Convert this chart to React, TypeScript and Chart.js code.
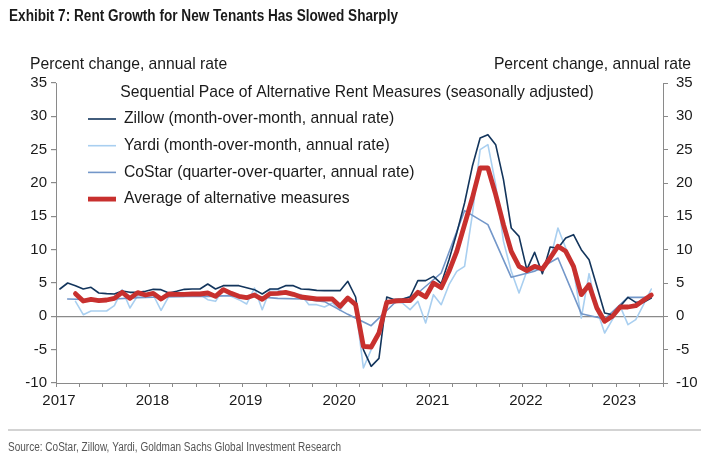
import React, { useEffect, useRef } from 'react';
import { Chart, registerables } from 'chart.js';

Chart.register(...registerables);

// ---------- text ----------
const TITLE = 'Exhibit 7: Rent Growth for New Tenants Has Slowed Sharply';
const AXIS_TITLE = 'Percent change, annual rate';
const SUBTITLE = 'Sequential Pace of Alternative Rent Measures (seasonally adjusted)';
const SOURCE = 'Source: CoStar, Zillow, Yardi, Goldman Sachs Global Investment Research';
const SERIES_LABELS = [
  'Zillow (month-over-month, annual rate)',
  'Yardi (month-over-month, annual rate)',
  'CoStar (quarter-over-quarter, annual rate)',
  'Average of alternative measures',
];

// ---------- axes ----------
const FIRST_YEAR = 2017;
const YEAR_LABELS = ['2017', '2018', '2019', '2020', '2021', '2022', '2023'];
const X_MONTHS_SPAN = 78; // Jan 2017 .. Jul 2023
const Y_MIN = -10;
const Y_MAX = 35;
const Y_STEP = 5;

// ---------- data (percent, annual rate) ----------
// Zillow monthly, Jan 2017 – May 2023
const ZILLOW_START = 0; // month index from Jan 2017
const zillow = [
  4.1, 5.0, 4.6, 4.1, 4.35, 3.5, 3.4, 3.35, 3.8, 3.6, 3.6, 3.75,
  4.05, 4.0, 3.5, 3.75, 4.05, 4.1, 4.1, 4.85, 4.1, 4.6, 4.6, 4.6,
  4.3, 4.0, 3.35, 4.1, 4.1, 4.6, 4.6, 4.1, 4.05, 3.9, 3.85, 3.85,
  3.85, 5.25, 2.9, -5.0, -7.5, -6.3, 2.9, 2.5, 2.6, 2.9, 5.35, 5.35,
  6.0, 4.9, 8.5, 12.5, 17.0, 22.5, 26.75, 27.25, 25.75, 20.5, 13.25, 12.0,
  7.0, 9.6, 6.4, 10.4, 10.2, 11.75, 12.25, 10.0, 8.5, 4.5, 0.5, 0.25,
  1.5, 2.85, 2.1, 2.1, 2.75,
];
// Yardi monthly, Mar 2017 – May 2023
const YARDI_START = 2;
const yardi = [
  2.25, 0.25, 0.8, 0.8, 0.8, 1.6, 4.0, 1.25, 3.1, 3.1,
  3.2, 0.9, 3.0, 3.0, 3.0, 3.25, 3.25, 2.5, 2.25, 4.1, 3.0, 2.5,
  1.85, 4.25, 1.0, 4.0, 4.0, 3.5, 3.25, 3.25, 1.75, 1.75, 1.4, 2.0,
  0.9, 2.75, 1.5, -7.75, -5.0, -2.0, 2.25, 2.25, 2.0, 1.0, 2.25, -1.0,
  3.25, 1.75, 4.75, 6.75, 7.5, 15.25, 25.0, 25.75, 19.75, 11.25, 6.75, 3.5,
  6.75, 7.0, 6.9, 8.5, 13.25, 10.25, 7.0, -0.25, 6.4, 1.0, -2.5, -0.5,
  1.5, -1.25, -0.5, 1.75, 4.1,
];
// CoStar quarterly, Q1 2017 – Q2 2023 (plotted at the middle month of each quarter)
const COSTAR_START = 1;
const costar = [
  2.6, 2.5, 2.6, 2.8,
  2.9, 3.0, 3.0, 3.1,
  3.0, 2.7, 2.6, 2.2,
  0.3, -1.4, 2.0, 3.5,
  6.5, 15.85, 13.75, 5.85,
  6.75, 8.75, 0.4, -0.4,
  2.85, 2.85,
];
// Average of alternative measures, monthly, Mar 2017 – May 2023
const AVERAGE_START = 2;
const average = [
  3.4, 2.3, 2.55, 2.35, 2.45, 2.7, 3.6, 2.7, 3.55, 3.2,
  3.45, 2.6, 3.35, 3.3, 3.3, 3.35, 3.35, 3.5, 3.0, 4.0, 3.45, 3.0,
  2.8, 3.2, 2.55, 3.4, 3.45, 3.6, 3.3, 2.9, 2.75, 2.6, 2.6, 2.6,
  1.5, 2.75, 1.75, -4.5, -4.6, -2.5, 2.1, 2.3, 2.35, 2.35, 3.6, 2.9,
  5.0, 4.3, 6.75, 9.75, 13.75, 17.75, 22.25, 22.25, 18.25, 13.75, 9.75, 7.5,
  6.85, 7.5, 7.1, 8.75, 10.5, 9.75, 7.5, 3.25, 4.75, 1.25, -0.75, 0.0,
  1.4, 1.4, 1.6, 2.4, 3.2,
];

// ---------- styles ----------
const COLORS = ['#13355c', '#a9cff0', '#7397c9', '#c8302e'];
const WIDTHS = [1.6, 1.6, 1.6, 4.8];
const AXIS_GRAY = '#8a8a8a';
const TEXT = '#1a1a1a';
const FONT = '"Liberation Sans", Arial, sans-serif';

const monthly = (vals: number[], start: number) =>
  vals.map((v, i) => ({ x: start + i + 0.5, y: v }));
const quarterly = (vals: number[], start: number) =>
  vals.map((v, i) => ({ x: start + i * 3 + 0.5, y: v }));

// draw text squeezed horizontally to a given width (condensed look)
function fillFit(ctx: CanvasRenderingContext2D, text: string, x: number, y: number, width: number) {
  const w = ctx.measureText(text).width;
  ctx.save();
  ctx.translate(x, y);
  ctx.scale(width / w, 1);
  ctx.textAlign = 'left';
  ctx.fillText(text, 0, 0);
  ctx.restore();
}

const decor = {
  id: 'decor',
  afterDraw(chart: any) {
    const { ctx, chartArea } = chart;
    const W = chart.width;
    ctx.save();
    ctx.textBaseline = 'middle';
    // title
    ctx.fillStyle = TEXT;
    ctx.font = `bold 16px ${FONT}`;
    fillFit(ctx, TITLE, 9, 17, 389);
    // axis titles
    ctx.font = `15.7px ${FONT}`;
    ctx.textAlign = 'left';
    ctx.fillText(AXIS_TITLE, 30, 65);
    ctx.textAlign = 'right';
    ctx.fillText(AXIS_TITLE, 691, 65);
    // subtitle
    ctx.textAlign = 'center';
    ctx.fillText(SUBTITLE, 357, chartArea.top + 10);
    // legend
    ctx.textAlign = 'left';
    const lx = chartArea.left + 32;
    for (let i = 0; i < SERIES_LABELS.length; i++) {
      const y = chartArea.top + 36 + i * 26.7;
      ctx.strokeStyle = COLORS[i];
      ctx.lineWidth = WIDTHS[i];
      ctx.beginPath();
      ctx.moveTo(lx, y);
      ctx.lineTo(lx + 28, y);
      ctx.stroke();
      ctx.fillStyle = TEXT;
      ctx.fillText(SERIES_LABELS[i], lx + 36, y);
    }
    // footer
    ctx.strokeStyle = '#c4c4c4';
    ctx.lineWidth = 1.5;
    ctx.beginPath();
    ctx.moveTo(8, 430);
    ctx.lineTo(W - 8, 430);
    ctx.stroke();
    ctx.fillStyle = '#555';
    ctx.font = `12px ${FONT}`;
    fillFit(ctx, SOURCE, 8, 448, 333);
    ctx.restore();
  },
};

export default function App() {
  const ref = useRef<HTMLCanvasElement>(null);
  useEffect(() => {
    if (!ref.current) return;
    Chart.defaults.font.family = FONT;
    Chart.defaults.font.size = 15;
    Chart.defaults.color = TEXT;
    const datasets = [
      { label: SERIES_LABELS[0], data: monthly(zillow, ZILLOW_START), order: 1 },
      { label: SERIES_LABELS[1], data: monthly(yardi, YARDI_START), order: 3 },
      { label: SERIES_LABELS[2], data: quarterly(costar, COSTAR_START), order: 2 },
      { label: SERIES_LABELS[3], data: monthly(average, AVERAGE_START), order: 0 },
    ].map((d, i) => ({
      ...d,
      borderColor: COLORS[i],
      backgroundColor: COLORS[i],
      borderWidth: WIDTHS[i],
      pointRadius: 0,
      tension: 0,
      fill: false,
      borderJoinStyle: 'round' as const,
      borderCapStyle: 'round' as const,
    }));
    const yTicks = {
      stepSize: Y_STEP,
      font: { size: 15, family: FONT },
      color: TEXT,
    };
    const chart = new Chart(ref.current, {
      type: 'line',
      data: { datasets },
      plugins: [decor],
      options: {
        animation: false,
        responsive: false,
        events: [],
        layout: { padding: { top: 83, left: 0, right: 0, bottom: 0 } },
        plugins: { legend: { display: false }, tooltip: { enabled: false }, title: { display: false } },
        scales: {
          x: {
            type: 'linear',
            min: 0,
            max: X_MONTHS_SPAN,
            afterFit: (s: any) => { s.height = 78; },
            border: { display: true, color: AXIS_GRAY, width: 1 },
            grid: { drawOnChartArea: false, drawTicks: true, tickLength: 4, tickColor: AXIS_GRAY, color: AXIS_GRAY },
            ticks: {
              stepSize: 3,
              autoSkip: false,
              maxRotation: 0,
              padding: 5,
              labelOffset: 3,
              font: { size: 15, family: FONT },
              color: TEXT,
              callback: (v: any) => {
                const n = Number(v);
                return n % 12 === 0 ? YEAR_LABELS[n / 12] ?? String(FIRST_YEAR + n / 12) : '';
              },
            },
          },
          y: {
            position: 'left',
            min: Y_MIN,
            max: Y_MAX,
            afterFit: (s: any) => { s.width = 56; },
            border: { display: true, color: AXIS_GRAY, width: 1 },
            grid: {
              drawOnChartArea: true,
              drawTicks: true,
              tickLength: 5,
              tickColor: AXIS_GRAY,
              color: (c: any) => (c.tick && c.tick.value === 0 ? AXIS_GRAY : 'rgba(0,0,0,0)'),
              lineWidth: 1.2,
            },
            ticks: { ...yTicks, padding: 4 },
          },
          y2: {
            position: 'right',
            min: Y_MIN,
            max: Y_MAX,
            afterFit: (s: any) => { s.width = 46; },
            border: { display: true, color: AXIS_GRAY, width: 1 },
            grid: { drawOnChartArea: false, drawTicks: true, tickLength: 5, tickColor: AXIS_GRAY },
            ticks: { ...yTicks, padding: 8 },
          },
        },
      },
    } as any);
    return () => chart.destroy();
  }, []);
  return (
    <div style={{ position: 'fixed', left: 0, top: 0, width: 709, height: 461, background: '#fff' }}>
      <canvas ref={ref} width={709} height={461} style={{ display: 'block' }} />
    </div>
  );
}
